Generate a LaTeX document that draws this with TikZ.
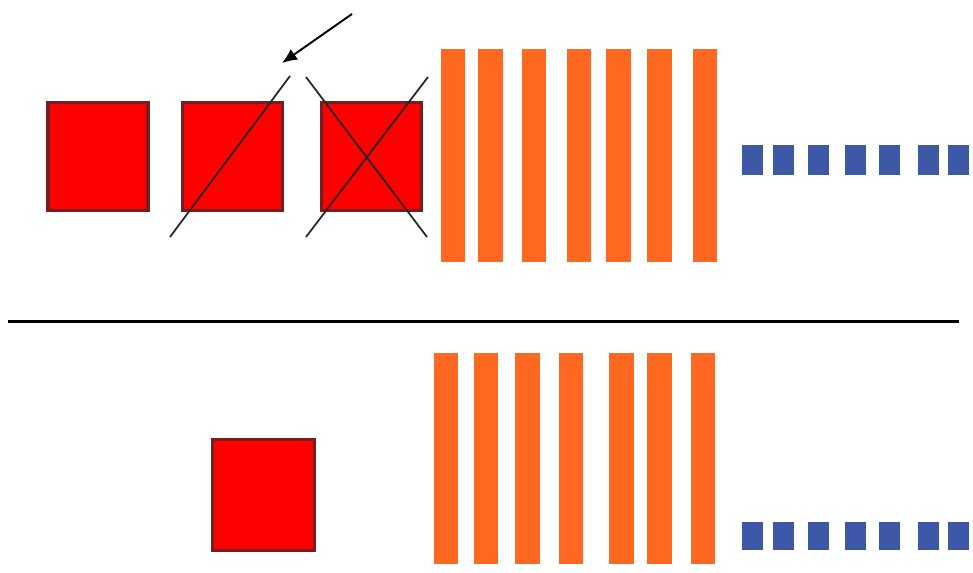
\documentclass[tikz,border=0pt]{standalone}
\usetikzlibrary{positioning, arrows.meta}

\definecolor{boxred}{RGB}{255,0,0}
\definecolor{rimred}{RGB}{120,30,30}
\definecolor{barorange}{RGB}{255,104,32}
\definecolor{dotblue}{RGB}{62,88,168}

\begin{document}
\begin{tikzpicture}[
  x=0.02cm, y=-0.02cm,
  redbox/.style = {draw=rimred, fill=boxred, line width=1.8pt, inner sep=0pt,
                   minimum width=2.0cm, minimum height=2.15cm},
  orangebar/.style = {fill=barorange, inner sep=0pt, minimum width=0.49cm, minimum height=4.26cm},
  bluedot/.style = {fill=dotblue, inner sep=0pt, minimum width=0.42cm, minimum height=0.6cm},
  strike/.style = {draw=black!85, line width=1pt},
  pointer/.style = {-{Latex[length=3mm, width=2.6mm]}, line width=1.1pt}
]
  \useasboundingbox (0,0) rectangle (973,573);

  % Place the red squares
  \node[redbox] (sq_0) at (98,156.5) {};
  \node[redbox] (sq_1) [right=0.62cm of sq_0] {};
  \node[redbox] (sq_2) [right=0.72cm of sq_1] {};
  \node[redbox, minimum width=2.05cm, minimum height=2.23cm] (sq_low) at (263.5,495) {};

  % Place the orange bars
  \foreach \x [count=\i] in {453, 490.5, 534, 579, 618.5, 659.5, 705}
    \node[orangebar] (bar_top_\i) at (\x,155.5) {};
  \foreach \x [count=\i] in {446, 486, 527.5, 571, 621.5, 659.5, 703}
    \node[orangebar, minimum height=4.22cm] (bar_low_\i) at (\x,458.5) {};

  % Place the blue dots
  \foreach \x [count=\i] in {752.5, 783.3, 818.5, 855, 889, 928.3, 958.5} {
    \node[bluedot] (dot_top_\i) at (\x,160) {};
    \node[bluedot, minimum height=0.57cm] (dot_low_\i) at (\x,536) {};
  }

  % Strike through the crossed squares
  \coordinate (cut_a0) at (170,237);
  \coordinate (cut_a1) at (290,76);
  \coordinate (cut_b0) at (306,77);
  \coordinate (cut_b1) at (427,237);
  \coordinate (cut_c0) at (306,237);
  \coordinate (cut_c1) at (428,77);
  \path[strike]
    (cut_a0) -- (cut_a1)
    (cut_b0) -- (cut_b1)
    (cut_c0) -- (cut_c1)
  ;

  % Pointer to the gap
  \coordinate (tail) at (352,14);
  \coordinate (tip) at (282,63);
  \draw[pointer] (tail) -- (tip);

  % Dividing rule
  \coordinate (rule_l) at (8,321.5);
  \coordinate (rule_r) at (959,321.5);
  \draw[line width=1.3pt] (rule_l) -- (rule_r);
\end{tikzpicture}
\end{document}
